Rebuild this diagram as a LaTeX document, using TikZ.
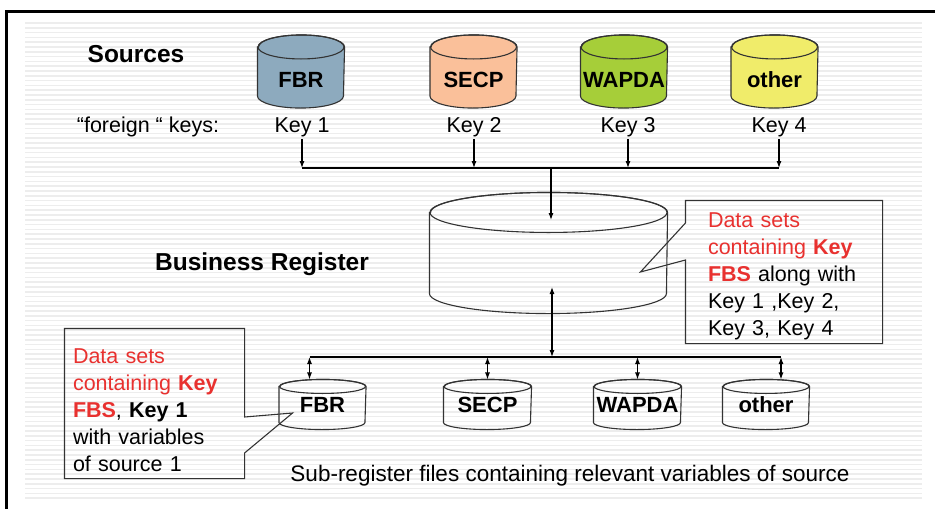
\documentclass[tikz,border=0pt]{standalone}
\usepackage{fontspec}
\setmainfont{Liberation Sans}
\usetikzlibrary{arrows.meta,positioning}

\definecolor{fbrblue}{RGB}{141,170,190}
\definecolor{secppeach}{RGB}{250,192,154}
\definecolor{wapdagreen}{RGB}{166,206,57}
\definecolor{otheryellow}{RGB}{240,236,106}
\definecolor{notered}{RGB}{232,49,47}
\newcommand{\hl}[1]{\textcolor{notered}{#1}}

% drum: name, centre, x radius, y radius, height, fill, label, label shift
\newcommand{\srcdrum}[8]{%
  \node[drumbody, minimum width={2*#3pt}, minimum height={#5pt}] (#1) at #2 {};
  \filldraw[drumline, fill=#6] ([yshift=-#4pt]#1.north west)
    -- ([yshift=#4pt]#1.south west)
    arc[start angle=180, end angle=360, x radius=#3pt, y radius=#4pt]
    -- ([yshift=-#4pt]#1.north east)
    arc[start angle=0, end angle=180, x radius=#3pt, y radius=#4pt] -- cycle;
  \draw[drumline] ([yshift=-#4pt]#1.north) ellipse [x radius=#3pt, y radius=#4pt];
  \node[drumlbl] (#1-l) at ([yshift=#8pt]#1.center) {#7};
}

\tikzset{
  stripe/.style={line width=1.6pt, black!7},
  drumbody/.style={inner sep=0pt},
  drumline/.style={draw=black!80},
  drumlbl/.style={inner sep=0pt, font=\bfseries\fontsize{22}{24}\selectfont},
  keylbl/.style={inner sep=2pt, font=\fontsize{21.5}{24}\selectfont},
  head/.style={inner sep=0pt, font=\bfseries\fontsize{24.5}{27}\selectfont},
  note/.style={align=left, inner ysep=0pt, font=\fontsize{21.5}{27}\selectfont},
  callout/.style={draw=black!80}
}

\begin{document}
\begin{tikzpicture}[x=1pt, y=-1pt, line width=1.1pt,
  >={Latex[length=7pt,width=5pt]}]
\useasboundingbox (0,0) rectangle (935,509);
% striped backdrop
\foreach \y in {23,27.8,...,500}
  \draw[stripe] (25,\y) -- (922,\y);
\draw[line width=3pt] (6.5,509) -- (6.5,11) -- (935,11);

% sources and their keys
\node[head] (srcs) at (136,54) {Sources};
\srcdrum{cFBR}{(301,71.5)}{43}{12}{72}{fbrblue}{FBR}{-8}
\srcdrum{cSECP}{(473.5,71.5)}{43}{12}{72}{secppeach}{SECP}{-8}
\srcdrum{cWAPDA}{(624,71.5)}{43}{12}{72}{wapdagreen}{WAPDA}{-8}
\srcdrum{cOther}{(774.5,71.5)}{43}{12}{72}{otheryellow}{other}{-8}

\node[keylbl] (fkeys) at (148,127) {“foreign “ keys:};
\node[keylbl] (k1) at (302,127) {Key 1};
\node[keylbl] (k2) at (474,127) {Key 2};
\node[keylbl] (k3) at (628,127) {Key 3};
\node[keylbl] (k4) at (779,127) {Key 4};

% business register
\coordinate (bus) at (551,168);
\foreach \k in {k1,k2,k3,k4}
  \draw[->] (\k.south) -- (\k.south |- bus);
\draw (k1.south |- bus) -- (k4.south |- bus);

\node[head] (bregl) at (262,264) {Business Register};
\srcdrum{breg}{(548.5,253)}{118.5}{20}{120}{none}{}{0}
\coordinate (regin) at (551,220);
\coordinate (regout) at (552,287);
\draw[->] (bus) -- (regin);

% sub-register files
\coordinate (sub) at (552,357);
\draw[<->] (regout) -- (sub);
\srcdrum{sFBR}{(322.5,404.5)}{43}{7}{49}{none}{FBR}{0}
\srcdrum{sSECP}{(487.5,404.5)}{43.5}{7}{49}{none}{SECP}{0}
\srcdrum{sWAPDA}{(637.5,404.5)}{43.5}{7}{49}{none}{WAPDA}{0}
\srcdrum{sOther}{(766,404.5)}{43}{7}{49}{none}{other}{0}
\draw ([xshift=-13pt]sFBR.north |- sub) -- ([xshift=15pt]sOther.north |- sub);
\foreach \s/\dx in {sFBR/-13,sSECP/0,sWAPDA/0,sOther/15}
  \draw[<->] ([xshift=\dx pt]\s.north |- sub) -- ([xshift=\dx pt]\s.north);

\node[keylbl, font=\fontsize{22.5}{24}\selectfont] (subl) at (570,476)
  {Sub-register files containing relevant variables of source};

% call-outs
\node[note, minimum width=194pt, minimum height=142pt, text width=152pt,
  inner xsep=22pt] (brNote) at (784,272)
  {\rule{0pt}{24pt}\hl{Data sets}\\
   \hl{containing \textbf{Key}}\\
   \hl{\textbf{FBS}} along with\\
   Key 1 ,Key 2,\\
   Key 3, Key 4};
\draw[callout] (brNote.north west) -- (brNote.north east) -- (brNote.south east)
  -- (brNote.south west) -- ([yshift=12pt]brNote.west)
  -- ([xshift=-45pt]brNote.west) -- ([yshift=49pt]brNote.west) -- cycle;

\node[note, minimum width=179pt, minimum height=149pt, text width=163pt,
  inner xsep=8pt] (lNote) at (154.5,403.5)
  {\rule{0pt}{28pt}\hl{Data sets}\\
   \hl{containing \textbf{Key}}\\
   \hl{\textbf{FBS}}, \textbf{Key 1}\\
   with variables\\
   of source 1};
\draw[callout] (lNote.north east) -- (lNote.north west) -- (lNote.south west)
  -- (lNote.south east) -- ([yshift=-49.5pt]lNote.east)
  -- ([xshift=48pt,yshift=-9.5pt]lNote.east) -- ([yshift=-13.5pt]lNote.east) -- cycle;
\end{tikzpicture}
\end{document}
